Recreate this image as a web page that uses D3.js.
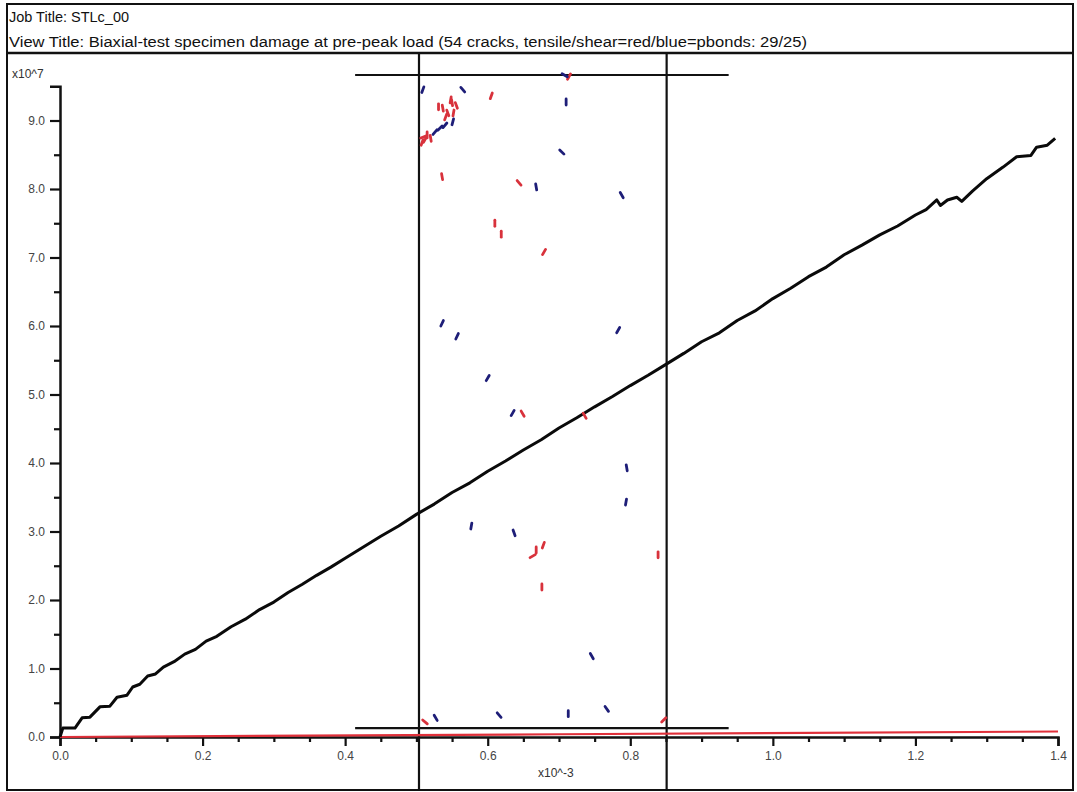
<!DOCTYPE html>
<html>
<head>
<meta charset="utf-8">
<script src="https://cdn.jsdelivr.net/npm/d3@7"></script>
<style>
  html, body { margin: 0; padding: 0; background: #fff; }
  svg { display: block; }
  text { font-family: "Liberation Sans", Arial, sans-serif; }
</style>
</head>
<body>
<svg id="chart" width="1077" height="792"></svg>
<script>
// ---------------- data ----------------
const jobTitle = "Job Title: STLc_00";
const viewTitle = "View Title: Biaxial-test specimen damage at pre-peak load (54 cracks, tensile/shear=red/blue=pbonds: 29/25)";
const xUnitLabel = "x10^-3";
const yUnitLabel = "x10^7";

const xMajorTicks = [0.0, 0.2, 0.4, 0.6, 0.8, 1.0, 1.2, 1.4];
const xMinorTicks = [0.05, 0.1, 0.15, 0.25, 0.3, 0.35, 0.45, 0.5, 0.55, 0.65, 0.7, 0.75, 0.85, 0.9, 0.95, 1.05, 1.1, 1.15, 1.25, 1.3, 1.35];
const yMajorTicks = [0, 1, 2, 3, 4, 5, 6, 7, 8, 9];
const yMinorTicks = [0.5, 1.5, 2.5, 3.5, 4.5, 5.5, 6.5, 7.5, 8.5];

// axial stress-strain curve (strain x10^-3, stress x10^7)
const curveStrain = [0, 0.004, 0.021, 0.031, 0.042, 0.056, 0.070, 0.080, 0.094, 0.102, 0.112, 0.123, 0.134, 0.145, 0.160, 0.175, 0.190, 0.205, 0.220, 0.240, 0.260, 0.280, 0.300, 0.320, 0.340, 0.360, 0.380, 0.400, 0.425, 0.450, 0.475, 0.500, 0.525, 0.550, 0.575, 0.600, 0.625, 0.650, 0.675, 0.700, 0.725, 0.750, 0.775, 0.800, 0.825, 0.850, 0.875, 0.900, 0.925, 0.950, 0.975, 1.000, 1.025, 1.050, 1.075, 1.100, 1.125, 1.150, 1.175, 1.200, 1.215, 1.230, 1.235, 1.245, 1.258, 1.265, 1.280, 1.300, 1.323, 1.342, 1.362, 1.370, 1.385, 1.396];
const curveStress = [0, 0.13, 0.13, 0.28, 0.29, 0.44, 0.45, 0.58, 0.61, 0.73, 0.77, 0.89, 0.92, 1.02, 1.10, 1.21, 1.28, 1.40, 1.47, 1.61, 1.72, 1.86, 1.97, 2.11, 2.23, 2.36, 2.48, 2.61, 2.77, 2.93, 3.08, 3.25, 3.40, 3.57, 3.71, 3.88, 4.03, 4.19, 4.34, 4.51, 4.66, 4.82, 4.97, 5.13, 5.28, 5.44, 5.60, 5.77, 5.90, 6.08, 6.22, 6.40, 6.55, 6.72, 6.86, 7.04, 7.18, 7.33, 7.46, 7.62, 7.70, 7.84, 7.76, 7.84, 7.88, 7.82, 7.97, 8.15, 8.32, 8.47, 8.49, 8.61, 8.64, 8.74];

// lateral (confining) stress curve
const lateralStrain = [0, 0.7, 1.4];
const lateralStress = [0.0, 0.04, 0.08];

// specimen walls (drawn in the same frame)
const wallLeftX = 0.5036;
const wallRightX = 0.851;
const platenTopY = 9.664;
const platenBottomY = 0.131;
const platenXStart = 0.414;
const platenXEnd = 0.938;

// cracks: x, y position and orientation (degrees)
const tensileX = [0.605, 0.714, 0.548, 0.537, 0.544, 0.552, 0.550, 0.512, 0.515, 0.536, 0.644, 0.610, 0.619, 0.679, 0.649, 0.736, 0.678, 0.663, 0.668, 0.839, 0.676, 0.512, 0.847, 0.510, 0.520, 0.541, 0.556, 0.531, 0.508];
const tensileY = [9.36, 9.64, 9.30, 9.18, 9.11, 9.11, 9.26, 8.72, 8.79, 8.18, 8.09, 7.50, 7.34, 7.08, 4.72, 4.69, 2.80, 2.64, 2.73, 2.66, 2.19, 0.22, 0.25, 8.76, 8.74, 9.05, 9.22, 9.20, 8.68];
const tensileAngle = [70, 60, 80, 100, 110, 80, 100, 60, 90, 100, 130, 90, 90, 60, 120, 120, 70, 30, 90, 90, 90, 140, 45, 20, 100, 70, 110, 90, 70];

const shearX = [0.509, 0.565, 0.710, 0.708, 0.551, 0.526, 0.533, 0.540, 0.704, 0.668, 0.788, 0.536, 0.557, 0.783, 0.600, 0.635, 0.795, 0.794, 0.577, 0.637, 0.746, 0.527, 0.616, 0.713, 0.767];
const shearY = [9.45, 9.45, 9.27, 9.66, 8.98, 8.83, 8.89, 8.93, 8.54, 8.03, 7.91, 6.04, 5.85, 5.94, 5.24, 4.73, 3.93, 3.43, 3.08, 2.98, 1.18, 0.28, 0.32, 0.34, 0.41];
const shearAngle = [70, 130, 90, 150, 75, 50, 45, 50, 135, 100, 120, 65, 65, 60, 60, 60, 100, 80, 80, 110, 120, 120, 130, 90, 125];

// ---------------- drawing ----------------
const svg = d3.select("#chart");
const W = 1077, H = 792;

const x = d3.scaleLinear().domain([0, 1.4]).range([60, 1058]);
const y = d3.scaleLinear().domain([0, 9.5]).range([737, 86.25]);

// frame + header
svg.append("rect").attr("x", 0).attr("y", 0).attr("width", W).attr("height", H).attr("fill", "#fff");
svg.append("rect").attr("x", 7).attr("y", 4).attr("width", 1066).attr("height", 786)
  .attr("fill", "none").attr("stroke", "#111").attr("stroke-width", 2);
svg.append("line").attr("x1", 7).attr("x2", 1073).attr("y1", 53).attr("y2", 53)
  .attr("stroke", "#111").attr("stroke-width", 2.5);
svg.append("text").attr("x", 9).attr("y", 22).attr("font-size", 14).attr("fill", "#111")
  .attr("textLength", 120).attr("lengthAdjust", "spacingAndGlyphs").text(jobTitle);
svg.append("text").attr("x", 9).attr("y", 47).attr("font-size", 14).attr("fill", "#111")
  .attr("textLength", 798).attr("lengthAdjust", "spacingAndGlyphs").text(viewTitle);

// unit labels
svg.append("text").attr("x", 12).attr("y", 78).attr("font-size", 12).attr("fill", "#333").text(yUnitLabel);
svg.append("text").attr("x", 538).attr("y", 777).attr("font-size", 12).attr("fill", "#333").text(xUnitLabel);

// axes
const fmt = d3.format(".1f");
svg.append("g").attr("transform", `translate(0,${y(0)})`)
  .call(d3.axisBottom(x).tickValues(xMajorTicks).tickSize(9).tickPadding(5).tickFormat(fmt));
svg.append("g").attr("transform", `translate(0,${y(0)})`)
  .call(d3.axisBottom(x).tickValues(xMinorTicks).tickSize(5).tickFormat(""))
  .call(g => g.select(".domain").remove());
svg.append("g").attr("transform", `translate(${x(0)},0)`)
  .call(d3.axisLeft(y).tickValues(yMajorTicks).tickSize(10).tickPadding(5).tickFormat(fmt));
svg.append("g").attr("transform", `translate(${x(0)},0)`)
  .call(d3.axisLeft(y).tickValues(yMinorTicks).tickSize(6).tickFormat(""))
  .call(g => g.select(".domain").remove());

svg.selectAll(".domain").attr("stroke", "#111").attr("stroke-width", 2.5);
svg.selectAll(".tick line").attr("stroke", "#111").attr("stroke-width", 2.2);
svg.selectAll(".tick text").attr("font-size", 12).attr("fill", "#444")
  .attr("font-family", "Liberation Sans, Arial, sans-serif");

// specimen walls
const wallColor = "#111";
svg.append("line").attr("x1", x(wallLeftX)).attr("x2", x(wallLeftX)).attr("y1", 53).attr("y2", 790)
  .attr("stroke", wallColor).attr("stroke-width", 2.2);
svg.append("line").attr("x1", x(wallRightX)).attr("x2", x(wallRightX)).attr("y1", 53).attr("y2", 790)
  .attr("stroke", wallColor).attr("stroke-width", 2.2);
svg.append("line").attr("x1", x(platenXStart)).attr("x2", x(platenXEnd)).attr("y1", y(platenTopY)).attr("y2", y(platenTopY))
  .attr("stroke", wallColor).attr("stroke-width", 2.2);
svg.append("line").attr("x1", x(platenXStart)).attr("x2", x(platenXEnd)).attr("y1", y(platenBottomY)).attr("y2", y(platenBottomY))
  .attr("stroke", wallColor).attr("stroke-width", 2.2);

// lateral stress line (red)
const line = d3.line().x(d => x(d[0])).y(d => y(d[1]));
svg.append("path").datum(lateralStrain.map((s, i) => [s, lateralStress[i]]))
  .attr("d", line).attr("fill", "none").attr("stroke", "#e0303a").attr("stroke-width", 2.2);

// main curve
svg.append("path").datum(curveStrain.map((s, i) => [s, curveStress[i]]))
  .attr("d", line).attr("fill", "none").attr("stroke", "#0a0a0a").attr("stroke-width", 3)
  .attr("stroke-linejoin", "round");

// cracks
function drawCracks(xs, ys, angs, color) {
  const data = xs.map((v, i) => ({ x: v, y: ys[i], a: angs[i] }));
  const len = 6;
  svg.append("g").selectAll("line").data(data).join("line")
    .attr("x1", d => x(d.x) - Math.cos(d.a * Math.PI / 180) * len / 2)
    .attr("y1", d => y(d.y) + Math.sin(d.a * Math.PI / 180) * len / 2)
    .attr("x2", d => x(d.x) + Math.cos(d.a * Math.PI / 180) * len / 2)
    .attr("y2", d => y(d.y) - Math.sin(d.a * Math.PI / 180) * len / 2)
    .attr("stroke", color).attr("stroke-width", 2.8).attr("stroke-linecap", "round");
}
drawCracks(tensileX, tensileY, tensileAngle, "#d8323c");
drawCracks(shearX, shearY, shearAngle, "#1e1e78");
</script>
</body>
</html>
